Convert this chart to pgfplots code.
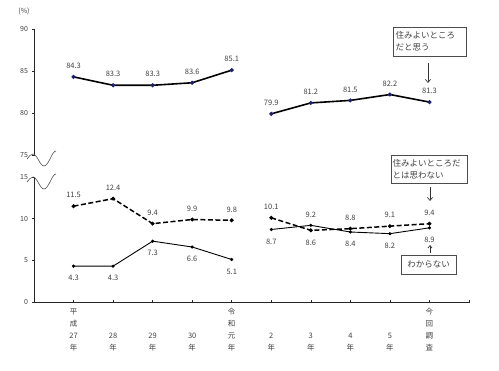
\documentclass[border=0pt]{standalone}
\usepackage{fontspec}
\setmainfont{Noto Sans CJK JP}
\usepackage{pgfplots}
\pgfplotsset{compat=1.18}
\usetikzlibrary{arrows.meta}
\definecolor{txt}{HTML}{404040}
\definecolor{navy}{HTML}{1F1F70}
\begin{document}
\begin{tikzpicture}
\useasboundingbox (0pt,-371pt) rectangle (499pt,0pt);
\pgfplotsset{
  base/.style={
    scale only axis, width=435pt, clip=false,
    xmin=-1, xmax=10,
    tick style={black!85, line width=0.6pt},
    /pgf/number format/assume math mode=true,
    tick label style={font=\fontsize{7}{9}\selectfont, text=txt},
    yticklabel style={xshift=-1pt},
    ytick align=inside, major tick length=3pt,
  },
  lab/.style={draw=none, mark=none, nodes near coords={\pgfmathprintnumber[fixed,precision=1,fixed zerofill]{\pgfplotspointmeta}},
    every node near coord/.append style={anchor=center, font=\fontsize{7.5}{9}\selectfont, text=txt, yshift=#1}},
}
% lower axis
\begin{axis}[base, at={(34pt,-302pt)}, anchor=south west, height=125pt,
  ymin=0, ymax=15, ytick={0,5,10,15},
  axis x line=bottom, axis y line=left,
  axis line style={-, line width=0.8pt, black!85},
  xtick={0,...,10}, xtick align=center,
  xticklabels={{\strut 平\\\strut 成\\\strut 27\\\strut 年},{\strut\\\strut\\\strut 28\\\strut 年},{\strut\\\strut\\\strut 29\\\strut 年},{\strut\\\strut\\\strut 30\\\strut 年},{\strut 令\\\strut 和\\\strut 元\\\strut 年},{\strut\\\strut\\\strut 2\\\strut 年},{\strut\\\strut\\\strut 3\\\strut 年},{\strut\\\strut\\\strut 4\\\strut 年},{\strut\\\strut\\\strut 5\\\strut 年},{\strut 今\\\strut 回\\\strut 調\\\strut 査},{}},
  xticklabel style={anchor=north, align=center, font=\fontsize{7.5}{12}\selectfont, yshift=1pt},
]
\addplot[black, line width=1.5pt, dashed, dash pattern=on 5pt off 2.5pt, mark=*, mark size=1.1pt, mark options={solid}] coordinates {(0,11.5)(1,12.4)(2,9.4)(3,9.9)(4,9.8)};
\addplot[black, line width=1.5pt, dashed, dash pattern=on 5pt off 2.5pt, mark=*, mark size=1.1pt, mark options={solid}] coordinates {(5,10.1)(6,8.6)(7,8.8)(8,9.1)(9,9.4)};
\addplot[black, line width=0.9pt, mark=*, mark size=1.1pt] coordinates {(0,4.3)(1,4.3)(2,7.3)(3,6.6)(4,5.1)};
\addplot[black, line width=0.9pt, mark=*, mark size=1.1pt] coordinates {(5,8.7)(6,9.2)(7,8.4)(8,8.2)(9,8.9)};
% labels above
\addplot[lab=11pt] coordinates {(0,11.5)(1,12.4)(2,9.4)(3,9.9)(4,9.8)(5,10.1)(6,9.2)(7,8.8)(8,9.1)(9,9.4)};
% labels below
\addplot[lab=-12pt] coordinates {(0,4.3)(1,4.3)(2,7.3)(3,6.6)(4,5.1)(5,8.7)(6,8.6)(7,8.4)(8,8.2)(9,8.9)};
\end{axis}
% upper axis
\begin{axis}[base, at={(34pt,-155pt)}, anchor=south west, height=126pt,
  ymin=75, ymax=90, ytick={75,80,85,90},
  axis x line=none, axis y line=left, xtick=\empty,
  axis line style={-, line width=0.8pt, black!85},
  y axis line style={-},
]
\addplot[black, line width=1.6pt, mark=*, mark size=1.1pt, mark options={navy}] coordinates {(0,84.3)(1,83.3)(2,83.3)(3,83.6)(4,85.1)};
\addplot[black, line width=1.6pt, mark=*, mark size=1.1pt, mark options={navy}] coordinates {(5,79.9)(6,81.2)(7,81.5)(8,82.2)(9,81.3)};
\addplot[lab=11pt] coordinates {(0,84.3)(1,83.3)(2,83.3)(3,83.6)(4,85.1)(5,79.9)(6,81.2)(7,81.5)(8,82.2)(9,81.3)};
\end{axis}
% (%)
\node[font=\fontsize{7}{8}\selectfont, text=txt] at (24pt,-11pt) {(\%)};
% break waves
\draw[black!70, line width=0.6pt] (27pt,-159pt) sin (33pt,-154pt) cos (38.5pt,-160pt) sin (44pt,-166pt) cos (50pt,-159pt) sin (56pt,-151pt);
\draw[black!70, line width=0.6pt] (27pt,-182pt) sin (33pt,-177pt) cos (38.5pt,-183pt) sin (44pt,-189pt) cos (50pt,-182pt) sin (56pt,-174pt);
% annotation boxes
\node[draw=black!70, line width=0.6pt, minimum width=73pt, minimum height=29pt, inner sep=2pt, align=left, text width=68pt, font=\fontsize{8.5}{12}\selectfont, text=txt] at (429.5pt,-41.5pt) {住みよいところ\\だと思う};
\draw[black!80, line width=0.7pt, -{Straight Barb[length=3pt,width=5pt]}] (428pt,-63pt) -- (428pt,-83pt);
\node[draw=black!70, line width=0.6pt, minimum width=76pt, minimum height=28pt, inner sep=1.5pt, align=left, text width=73pt, font=\fontsize{8.5}{12}\selectfont, text=txt] at (429pt,-169pt) {住みよいところだ\\とは思わない};
\draw[black!80, line width=0.7pt, -{Straight Barb[length=3pt,width=5pt]}] (430pt,-187pt) -- (430pt,-201pt);
\node[draw=black!70, line width=0.6pt, minimum width=55pt, minimum height=19pt, inner sep=2pt, font=\fontsize{8.5}{10}\selectfont, text=txt] at (428.5pt,-264.5pt) {わからない};
\draw[black!80, line width=0.7pt, -{Straight Barb[length=2.5pt,width=4pt]}] (430pt,-253pt) -- (430pt,-245pt);
\end{tikzpicture}
\end{document}
